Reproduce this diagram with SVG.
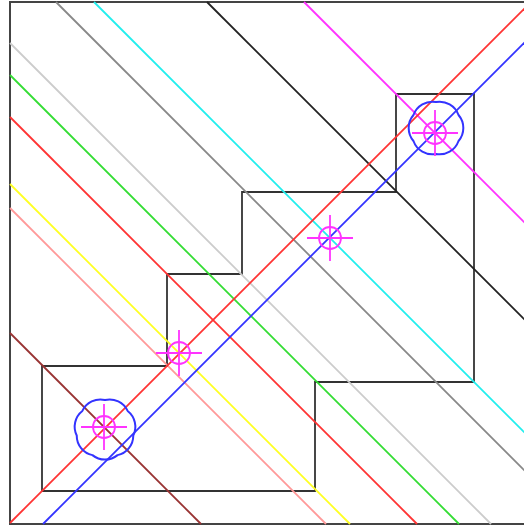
<svg xmlns="http://www.w3.org/2000/svg" width="524" height="527" viewBox="0 0 524 527">
<style>
.ln{fill:none;stroke-width:1.8}
.frame{fill:none;stroke:#444;stroke-width:2}
.shape{fill:none;stroke:#333;stroke-width:1.8}
.cloud{fill:none;stroke:#3333ff;stroke-width:2}
.mk{fill:none;stroke:#ff33ff;stroke-width:1.8}
</style>
<defs>
<g id="target"><circle cx="0" cy="0" r="11" class="mk"/><path class="mk" d="M-23,0H23M0,-23V23"/></g>
</defs>
<rect width="524" height="527" fill="#fff"/>
<g id="frame"><rect class="frame" x="10" y="2" width="530" height="522"/></g>
<g id="region"><path class="shape" d="M42,366H167V274H242V192H396V94H474V382H315V491H42Z"/></g>
<g id="connectors">
<line class="ln" stroke="#222" x1="207" y1="2" x2="530" y2="325"/>
<line class="ln" stroke="#ff33ff" x1="304" y1="2" x2="530" y2="228"/>
<line class="ln" stroke="#22eeee" x1="94" y1="2" x2="530" y2="438"/>
<line class="ln" stroke="#888" x1="56" y1="2" x2="530" y2="476"/>
<line class="ln" stroke="#ccc" x1="10" y1="43" x2="491" y2="524"/>
<line class="ln" stroke="#33dd33" x1="10" y1="75" x2="459" y2="524"/>
<line class="ln" stroke="#ff3333" x1="10" y1="117" x2="417" y2="524"/>
<line class="ln" stroke="#ffff22" x1="10" y1="184" x2="350" y2="524"/>
<line class="ln" stroke="#ff9999" x1="10" y1="208" x2="326" y2="524"/>
<line class="ln" stroke="#993333" x1="10" y1="333" x2="201" y2="524"/>
<line class="ln" stroke="#ff3333" x1="10" y1="523" x2="531" y2="2"/>
<line class="ln" stroke="#3333ff" x1="43" y1="524" x2="530" y2="37"/>
</g>
<g id="cloud-top"><path class="cloud" d="M436,102A20,20 0 0 1 458.52,115A20,20 0 0 1 458.52,141A20,20 0 0 1 436,154A20,20 0 0 1 413.48,141A20,20 0 0 1 413.48,115A20,20 0 0 1 436,102Z"/></g>
<g id="cloud-bottom"><path class="cloud" d="M105,400A20,20 0 0 1 127.67,410.92A20,20 0 0 1 133.27,435.45A20,20 0 0 1 117.58,455.13A20,20 0 0 1 92.42,455.13A20,20 0 0 1 76.73,435.45A20,20 0 0 1 82.33,410.92A20,20 0 0 1 105,400Z"/></g>
<g id="marker-1"><use href="#target" x="435" y="133"/></g>
<g id="marker-2"><use href="#target" x="330" y="238"/></g>
<g id="marker-3"><use href="#target" x="179" y="353"/></g>
<g id="marker-4"><use href="#target" x="104" y="427"/></g>
</svg>
